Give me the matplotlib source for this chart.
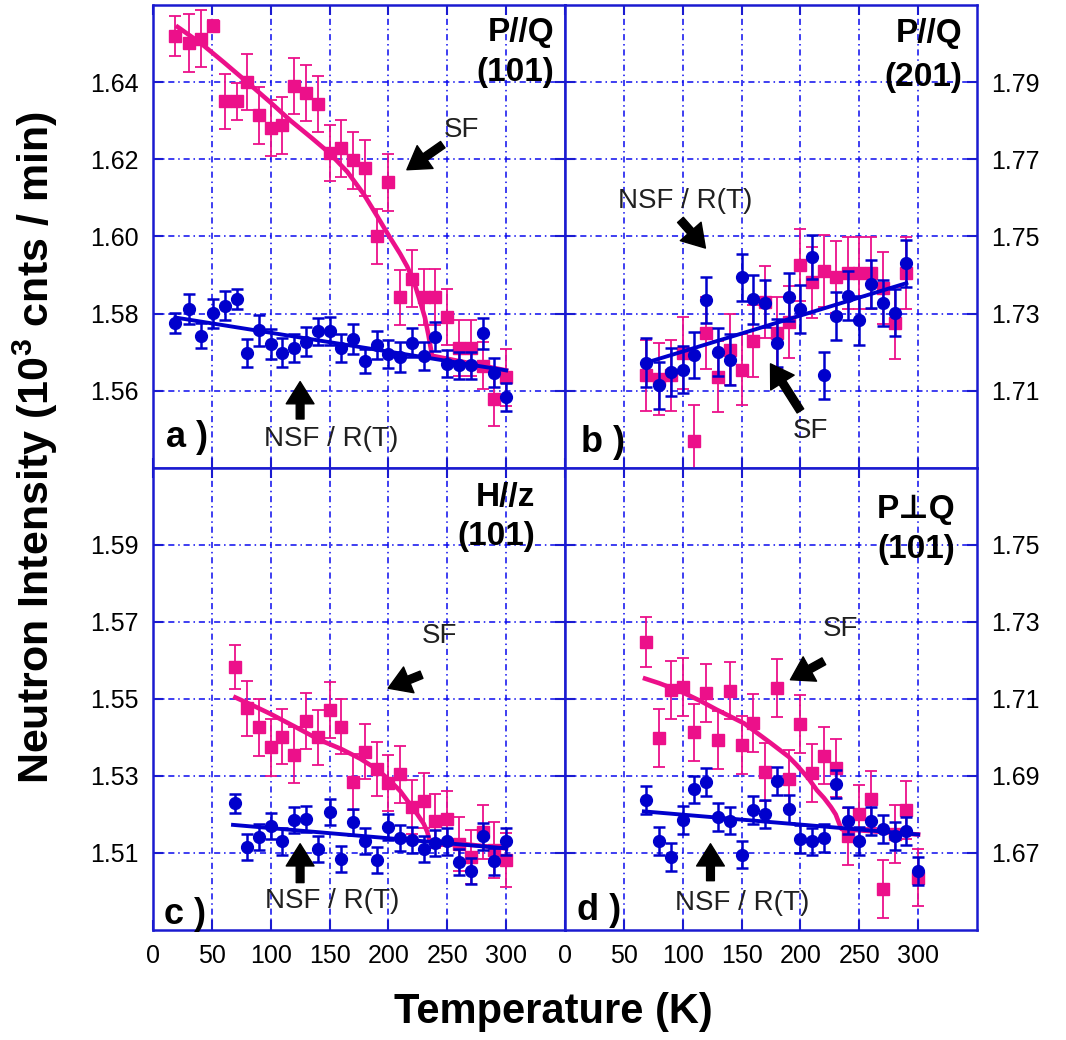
import matplotlib
matplotlib.use('Agg')
import matplotlib.pyplot as plt

plt.rcParams['font.family'] = ['Liberation Sans', 'DejaVu Sans']
plt.rcParams['mathtext.fontset'] = 'custom'
plt.rcParams['mathtext.rm'] = 'Liberation Sans'
plt.rcParams['mathtext.bf'] = 'Liberation Sans:bold'

PINK = '#ec108a'
BLUE = '#0000cc'
FRAME = '#1a1ad0'
GRID = '#0a0aee'

# ---- panel a : P//Q (101) ----
a_T = [19, 31, 41, 51, 61, 71, 80, 90, 100, 110, 120, 130, 140, 150, 160,
       170, 180, 190, 200, 210, 220, 230, 240, 250, 260, 270, 280, 290, 300]
a_sf = [1.6520, 1.6502, 1.6513, 1.6546, 1.6350, 1.6350, 1.6400, 1.6314, 1.6281,
        1.6288, 1.6390, 1.6372, 1.6343, 1.6216, 1.6229, 1.6197, 1.6177, 1.6000,
        1.6140, 1.5842, 1.5890, 1.5844, 1.5844, 1.5792, 1.5711, 1.5711, 1.5665,
        1.5578, 1.5635]
a_sf_err = [0.0052, 0.0075, 0.0074, 0.0015, 0.0072, 0.0048, 0.0073, 0.0073,
            0.0073, 0.0073, 0.0073, 0.0072, 0.0073, 0.0073, 0.0074, 0.0074,
            0.0073, 0.0070, 0.0073, 0.0072, 0.0074, 0.0073, 0.0073, 0.0073,
            0.0073, 0.0073, 0.0061, 0.0070, 0.0074]
a_nsf = [1.5776, 1.5811, 1.5743, 1.5801, 1.5821, 1.5838, 1.5699, 1.5757, 1.5722,
         1.5699, 1.5711, 1.5727, 1.5755, 1.5755, 1.5711, 1.5734, 1.5677, 1.5718,
         1.5696, 1.5688, 1.5725, 1.5690, 1.5740, 1.5670, 1.5666, 1.5666, 1.5749,
         1.5647, 1.5584]
a_nsf_err = [0.0026, 0.0039, 0.0033, 0.0037, 0.0037, 0.0026, 0.0036, 0.0040,
             0.0039, 0.0038, 0.0036, 0.0038, 0.0035, 0.0037, 0.0036, 0.0038,
             0.0032, 0.0036, 0.0037, 0.0038, 0.0038, 0.0037, 0.0038, 0.0035,
             0.0035, 0.0035, 0.0040, 0.0037, 0.0036]
a_sf_fit_T = [21, 41, 60, 80, 100, 117, 135, 150, 165, 179, 190, 200, 210,
              216, 222, 227, 231, 234, 236, 237, 300]
a_sf_fit = [1.6543, 1.6500, 1.6452, 1.6400, 1.6347, 1.6300, 1.6255, 1.6216,
            1.6168, 1.6110, 1.6055, 1.6004, 1.5955, 1.5922, 1.5880, 1.5831,
            1.5790, 1.5745, 1.5710, 1.5691, 1.5653]
a_nsf_fit_T = [19, 300]
a_nsf_fit = [1.5790, 1.5653]

# ---- panel b : P//Q (201) ----
b_T = [69, 80, 90, 100, 110, 120, 130, 140, 150, 160, 170, 180, 190, 200, 210,
       220, 230, 240, 250, 260, 270, 280, 290]
b_sf = [1.7140, 1.7131, 1.7140, 1.7198, 1.6969, 1.7249, 1.7137, 1.7207, 1.7155,
        1.7229, 1.7331, 1.7249, 1.7279, 1.7427, 1.7381, 1.7410, 1.7396, 1.7405,
        1.7405, 1.7405, 1.7366, 1.7276, 1.7405]
b_sf_err = [0.0093] * 23
b_nsf = [1.7173, 1.7114, 1.7149, 1.7155, 1.7192, 1.7335, 1.7201, 1.7181, 1.7394,
         1.7337, 1.7327, 1.7224, 1.7344, 1.7312, 1.7447, 1.7140, 1.7295, 1.7347,
         1.7283, 1.7377, 1.7327, 1.7303, 1.7431]
b_nsf_err = [0.0063, 0.0062, 0.0062, 0.0060, 0.0060, 0.0060, 0.0062, 0.0067,
             0.0061, 0.0063, 0.0061, 0.0063, 0.0062, 0.0063, 0.0058, 0.0061,
             0.0062, 0.0063, 0.0064, 0.0063, 0.0060, 0.0061, 0.0061]
b_nsf_fit_T = [69, 290]
b_nsf_fit = [1.7173, 1.7379]

# ---- panel c : H//z (101) ----
c_T = [70, 80, 90, 100, 110, 120, 130, 140, 150, 160, 170, 180, 190, 200, 210,
       220, 230, 240, 250, 260, 270, 280, 290, 300]
c_sf = [1.5582, 1.5476, 1.5426, 1.5374, 1.5402, 1.5354, 1.5443, 1.5400, 1.5471,
        1.5428, 1.5284, 1.5363, 1.5317, 1.5282, 1.5304, 1.5219, 1.5236, 1.5183,
        1.5189, 1.5124, 1.5089, 1.5154, 1.5108, 1.5082]
c_sf_err = [0.0057, 0.0071, 0.0073, 0.0073, 0.0072, 0.0072, 0.0073, 0.0072,
            0.0072, 0.0071, 0.0072, 0.0071, 0.0070, 0.0072, 0.0074, 0.0070,
            0.0072, 0.0070, 0.0072, 0.0070, 0.0070, 0.0070, 0.0073, 0.0071]
c_nsf = [1.5229, 1.5116, 1.5141, 1.5171, 1.5130, 1.5186, 1.5189, 1.5110, 1.5206,
         1.5084, 1.5180, 1.5132, 1.5082, 1.5167, 1.5139, 1.5134, 1.5110, 1.5125,
         1.5130, 1.5076, 1.5054, 1.5143, 1.5078, 1.5130]
c_nsf_err = [0.0025] + [0.0034] * 23
c_sf_fit_T = [70, 85, 100, 120, 142, 160, 176, 190, 201, 210, 218, 224, 230,
              233, 235, 300]
c_sf_fit = [1.5504, 1.5483, 1.5461, 1.5429, 1.5393, 1.5370, 1.5345, 1.5318,
            1.5289, 1.5261, 1.5228, 1.5203, 1.5176, 1.5155, 1.5132, 1.5112]
c_nsf_fit_T = [68, 300]
c_nsf_fit = [1.5173, 1.5112]

# ---- panel d : P perp Q (101) ----
d_T = [69, 80, 90, 100, 110, 120, 130, 140, 150, 160, 170, 180, 190, 200, 210,
       220, 230, 240, 250, 260, 270, 280, 290, 300]
d_sf = [1.7248, 1.6998, 1.7124, 1.7131, 1.7013, 1.7116, 1.6994, 1.7122, 1.6980,
        1.7037, 1.6911, 1.7129, 1.6893, 1.7035, 1.6907, 1.6953, 1.6920, 1.6743,
        1.6802, 1.6839, 1.6607, 1.6750, 1.6811, 1.6636]
d_sf_err = [0.0065] + [0.0075] * 23
d_nsf = [1.6837, 1.6732, 1.6689, 1.6786, 1.6865, 1.6885, 1.6793, 1.6784, 1.6696,
         1.6812, 1.6802, 1.6887, 1.6815, 1.6737, 1.6730, 1.6739, 1.6880, 1.6784,
         1.6732, 1.6783, 1.6763, 1.6745, 1.6758, 1.6654]
d_nsf_err = [0.0036] * 24
d_sf_fit_T = [68, 80, 98, 115, 129, 152, 175, 190, 197, 207, 214, 220, 226,
              230, 233, 235, 300]
d_sf_fit = [1.7153, 1.7141, 1.7120, 1.7095, 1.7072, 1.7037, 1.6985, 1.6950,
            1.6928, 1.6893, 1.6863, 1.6843, 1.6819, 1.6800, 1.6776, 1.6762, 1.6748]
d_nsf_fit_T = [67, 300]
d_nsf_fit = [1.6808, 1.6748]

x_ticks = [0, 50, 100, 150, 200, 250, 300]

fig = plt.figure(figsize=(10.66, 10.40), dpi=100)

W = 0.3865
rects = {'a': [0.1435, 0.5500, W, 0.4452],
         'b': [0.5300, 0.5500, W, 0.4452],
         'c': [0.1435, 0.1058, W, 0.4442],
         'd': [0.5300, 0.1058, W, 0.4442]}


def setup(ax, ylim, yticks, right, bottom):
    ax.set_xlim(0, 350)
    ax.set_ylim(*ylim)
    ax.set_xticks(x_ticks)
    ax.set_yticks(yticks)
    ax.set_yticklabels(['%.2f' % v for v in yticks])
    ax.set_axisbelow(True)
    ax.grid(True, color=GRID, lw=1.1, linestyle=(0, (4, 2.5, 1, 2.5)))
    for s in ax.spines.values():
        s.set_color(FRAME)
        s.set_linewidth(1.8)
    ax.tick_params(direction='in', length=7, width=1.5, color=FRAME,
                   top=True, right=True, left=True, bottom=True,
                   labelsize=18, labelleft=not right, labelright=right,
                   labelbottom=bottom, pad=10)


def draw(ax, T, sf, sf_err, nsf, nsf_err, sf_fit_T, sf_fit, nsf_fit_T, nsf_fit):
    if sf_fit_T is not None:
        ax.plot(sf_fit_T, sf_fit, color=PINK, lw=3.3, zorder=3,
                solid_joinstyle='round')
    ax.errorbar(T, sf, yerr=sf_err, fmt='s', ms=9, color=PINK, ecolor=PINK,
                elinewidth=1.3, capsize=4.5, capthick=1.3, zorder=4)
    ax.plot(nsf_fit_T, nsf_fit, color=BLUE, lw=2.8, zorder=5)
    ax.errorbar(T, nsf, yerr=nsf_err, fmt='o', ms=8.5, color=BLUE, ecolor=BLUE,
                elinewidth=1.8, capsize=4.5, capthick=1.8, zorder=6)


def arrow(ax, head, tail):
    ax.annotate('', xy=head, xytext=tail,
                arrowprops=dict(arrowstyle='simple,head_length=0.8,head_width=1.0,tail_width=0.28',
                                color='k', mutation_scale=20, shrinkA=0, shrinkB=0),
                zorder=8)


def note(ax, x, y, s):
    ax.text(x, y, s, fontsize=20, color='#202020', ha='center', va='center', zorder=8)


def title(ax, x, y1, y2, s1, s2):
    ax.text(x, y1, s1, fontsize=24, fontweight='bold', ha='right', va='center',
            zorder=8, family=['Liberation Sans', 'DejaVu Sans'])
    ax.text(x, y2, s2, fontsize=24, fontweight='bold', ha='right', va='center', zorder=8)


def letter(ax, x, y, s):
    ax.text(x, y, s, fontsize=26, fontweight='bold', ha='center', va='center', zorder=8)


# panel a
ax = fig.add_axes(rects['a'])
setup(ax, (1.54, 1.66), [1.56, 1.58, 1.60, 1.62, 1.64], False, False)
draw(ax, a_T, a_sf, a_sf_err, a_nsf, a_nsf_err, a_sf_fit_T, a_sf_fit,
     a_nsf_fit_T, a_nsf_fit)
arrow(ax, (215.7, 1.6173), (246.2, 1.6238))
note(ax, 262.3, 1.6275, 'SF')
arrow(ax, (125, 1.5624), (125, 1.5527))
note(ax, 151.3, 1.5475, 'NSF / R(T)')
letter(ax, 29, 1.5478, 'a )')
title(ax, 341, 1.6528, 1.6426, 'P//Q', '(101)')

# panel b
ax = fig.add_axes(rects['b'])
setup(ax, (1.69, 1.81), [1.71, 1.73, 1.75, 1.77, 1.79], True, False)
draw(ax, b_T, b_sf, b_sf_err, b_nsf, b_nsf_err, None, None,
     b_nsf_fit_T, b_nsf_fit)
arrow(ax, (119.3, 1.7470), (98.1, 1.7543))
note(ax, 102.4, 1.7593, 'NSF / R(T)')
arrow(ax, (174.6, 1.7170), (200, 1.7048))
note(ax, 208.5, 1.6997, 'SF')
letter(ax, 32.3, 1.6966, 'b )')
title(ax, 337.7, 1.8025, 1.7913, 'P//Q', '(201)')

# panel c
ax = fig.add_axes(rects['c'])
setup(ax, (1.49, 1.61), [1.51, 1.53, 1.55, 1.57, 1.59], False, True)
draw(ax, c_T, c_sf, c_sf_err, c_nsf, c_nsf_err, c_sf_fit_T, c_sf_fit,
     c_nsf_fit_T, c_nsf_fit)
arrow(ax, (199.8, 1.5528), (228.1, 1.5563))
note(ax, 243.6, 1.5663, 'SF')
arrow(ax, (125, 1.5124), (125, 1.5023))
note(ax, 151.9, 1.4976, 'NSF / R(T)')
letter(ax, 27.5, 1.4939, 'c )')
title(ax, 325, 1.6024, 1.5923, 'H//z', '(101)')

# panel d
ax = fig.add_axes(rects['d'])
setup(ax, (1.65, 1.77), [1.67, 1.69, 1.71, 1.73, 1.75], True, True)
draw(ax, d_T, d_sf, d_sf_err, d_nsf, d_nsf_err, d_sf_fit_T, d_sf_fit,
     d_nsf_fit_T, d_nsf_fit)
arrow(ax, (191.5, 1.7150), (219.9, 1.7198))
note(ax, 234.1, 1.7281, 'SF')
arrow(ax, (123.6, 1.6724), (123.6, 1.6628))
note(ax, 150.6, 1.6571, 'NSF / R(T)')
letter(ax, 29.3, 1.6550, 'd )')
title(ax, 331.8, 1.7592, 1.7487, 'P\u22a5Q', '(101)')

fig.text(0.033, 0.570, r'Neutron Intensity (10$^{\mathbf{3}}$ cnts / min)',
         rotation=90, fontsize=31, fontweight='bold', ha='center', va='center')
fig.text(0.519, 0.027, 'Temperature (K)', fontsize=30, fontweight='bold',
         ha='center', va='center')

fig.savefig('out.png', dpi=100)
